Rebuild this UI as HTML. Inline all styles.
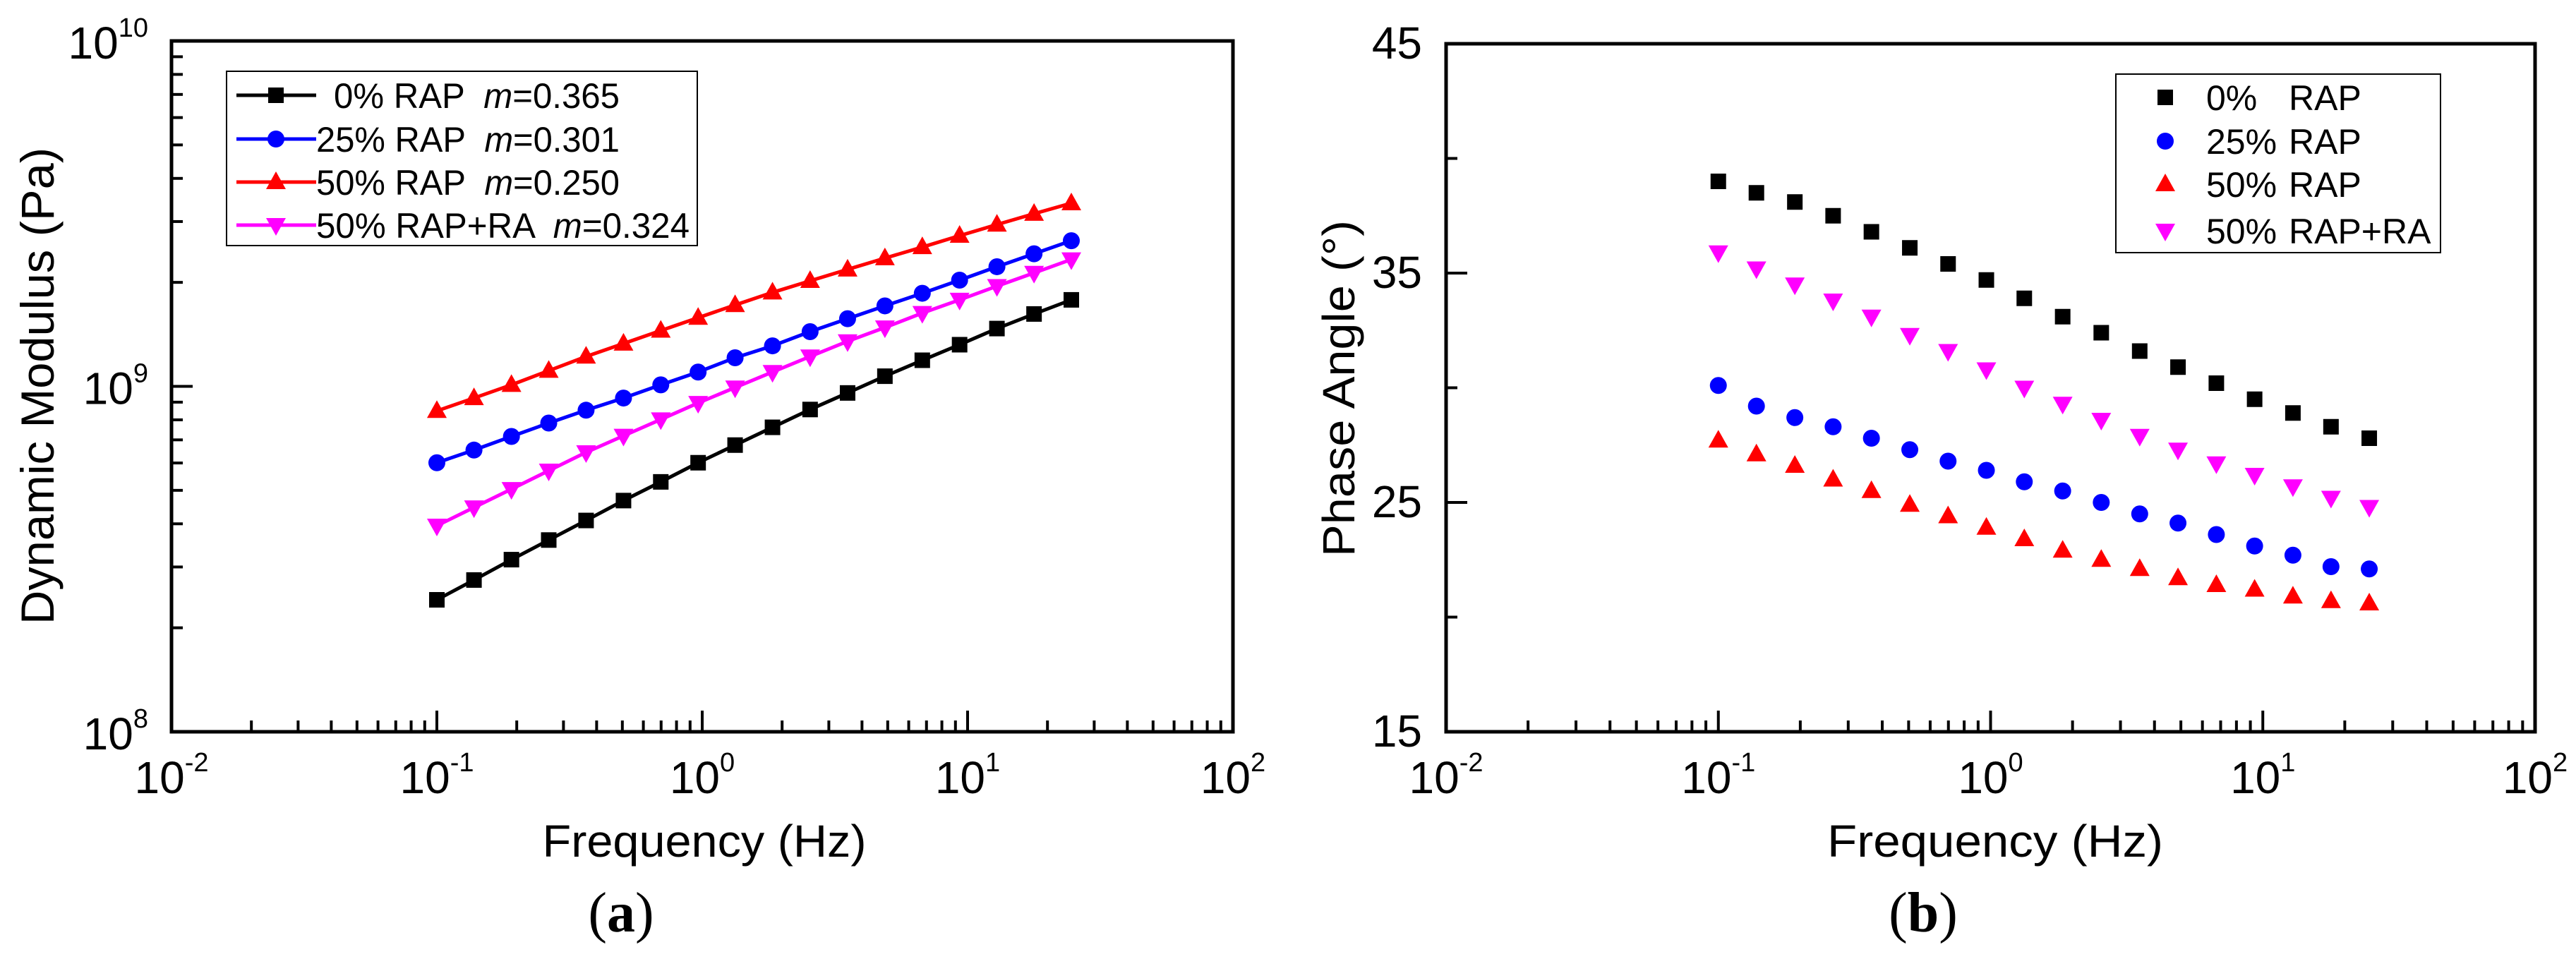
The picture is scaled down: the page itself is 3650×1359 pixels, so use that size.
<!DOCTYPE html>
<html><head><meta charset="utf-8"><style>
html,body{margin:0;padding:0;background:#fff;}
svg{display:block;font-family:"Liberation Sans",sans-serif;}
text{white-space:pre;}
</style></head><body>
<svg id="fig" width="3650" height="1359" viewBox="0 0 3650 1359" xmlns="http://www.w3.org/2000/svg">
<rect width="3650" height="1359" fill="#fff"/>
<g id="pa"></g>
<g id="pb"></g>
<text transform="translate(76,885) rotate(-90)" font-size="66" textLength="676" lengthAdjust="spacingAndGlyphs">Dynamic Modulus (Pa)</text>
<text x="998" y="1214" font-size="64" text-anchor="middle" textLength="459" lengthAdjust="spacingAndGlyphs">Frequency (Hz)</text>
<text x="880" y="1320" font-size="80" text-anchor="middle" font-family="Liberation Serif, serif">(<tspan font-weight="bold">a</tspan>)</text>
<text transform="translate(1919,789) rotate(-90)" font-size="64" textLength="477" lengthAdjust="spacingAndGlyphs">Phase Angle (°)</text>
<text x="2827" y="1214" font-size="64" text-anchor="middle" textLength="476" lengthAdjust="spacingAndGlyphs">Frequency (Hz)</text>
<text x="2725" y="1320" font-size="80" text-anchor="middle" font-family="Liberation Serif, serif">(<tspan font-weight="bold">b</tspan>)</text>
</svg>
<script>
const freq = [0.1,0.138,0.191,0.264,0.365,0.505,0.698,0.965,1.33,1.84,2.55,3.53,4.88,6.75,9.33,12.9,17.8,24.6];
// dynamic modulus in units of 1e8 Pa
const gRap0 = [2.41,2.75,3.15,3.59,4.09,4.67,5.29,6.01,6.76,7.61,8.57,9.57,10.7,11.9,13.2,14.7,16.2,17.8];
const gRap25 = [6.01,6.54,7.16,7.83,8.53,9.25,10.1,11.0,12.1,13.1,14.4,15.7,17.1,18.6,20.3,22.2,24.2,26.4];
const gRap50 = [8.49,9.25,10.1,11.1,12.2,13.3,14.5,15.8,17.2,18.7,20.2,21.8,23.5,25.3,27.3,29.4,31.6,33.9];
const gRap50RA = [3.95,4.46,5.04,5.70,6.44,7.19,8.02,8.95,9.92,11.0,12.2,13.5,14.8,16.3,17.8,19.5,21.3,23.3];
// phase angle in degrees
const pRap0 = [39.0,38.5,38.1,37.5,36.8,36.1,35.4,34.7,33.9,33.1,32.4,31.6,30.9,30.2,29.5,28.9,28.3,27.8];
const pRap25 = [30.1,29.2,28.7,28.3,27.8,27.3,26.8,26.4,25.9,25.5,25.0,24.5,24.1,23.6,23.1,22.7,22.2,22.1];
const pRap50 = [27.7,27.1,26.6,26.0,25.5,24.9,24.4,23.9,23.4,22.9,22.5,22.1,21.7,21.4,21.2,20.9,20.7,20.6];
const pRap50RA = [35.9,35.2,34.5,33.8,33.1,32.3,31.6,30.8,30.0,29.3,28.6,27.9,27.3,26.7,26.2,25.7,25.2,24.8];
const xDecades = [-2,-1,0,1,2];
const yDecades = [8,9,10];
const phaseMajor = [15,25,35,45];
const phaseMinor = [20,30,40];
const legendA = ['0% RAP  ','25% RAP  ','50% RAP  ','50% RAP+RA  '];
const legendM = ['0.365','0.301','0.250','0.324'];
const legendB = ['0%','25%','50%','50%'];
const legendBRest = ['RAP','RAP','RAP','RAP+RA'];

const NS='http://www.w3.org/2000/svg';
function mk(parent,tag,attrs){const e=document.createElementNS(NS,tag);for(const k in attrs)e.setAttribute(k,attrs[k]);parent.appendChild(e);return e;}
const colors=['#000000','#0000ff','#ff0000','#ff00ff'];
const shapes=['square','circle','up','down'];
function marker(g,shape,x,y,c){
  let e;
  if(shape==='square') e=mk(g,'rect',{x:x-11,y:y-11,width:22,height:22,fill:c});
  else if(shape==='circle') e=mk(g,'circle',{cx:x,cy:y,r:12,fill:c});
  else if(shape==='up') e=mk(g,'polygon',{points:`${x},${y-15} ${x+14},${y+10} ${x-14},${y+10}`,fill:c});
  else e=mk(g,'polygon',{points:`${x},${y+15} ${x+14},${y-10} ${x-14},${y-10}`,fill:c});
  return e;
}
const A={x0:243,x1:1747,y0:58,y1:1037};
const xA=f=>A.x0+(Math.log10(f)+2)*(A.x1-A.x0)/4;
const yA=v=>A.y1-(Math.log10(v)-8)*(A.y1-A.y0)/2;
const pa=document.getElementById('pa');
const B={x0:2049,x1:3592,y0:62,y1:1037};
const xB=f=>B.x0+(Math.log10(f)+2)*(B.x1-B.x0)/4;
const yB=a=>B.y1-(a-15)*(B.y1-B.y0)/30;
const pb=document.getElementById('pb');

function xAxis(g,P,xf){
  xDecades.forEach(d=>{
    const x=xf(Math.pow(10,d));
    const t=mk(g,'line',{x1:x,y1:P.y1,x2:x,y2:P.y1-30,stroke:'#000','stroke-width':4});
    
    
    const lb=mk(g,'text',{x:x,y:1124,'font-size':64,'text-anchor':'middle'});
    
    
    lb.textContent='10';
    const s=mk(lb,'tspan',{dy:-31,'font-size':38});s.textContent=String(d);
    if(d<2){for(let k=2;k<=9;k++){
      const xm=xf(k*Math.pow(10,d));
      const m=mk(g,'line',{x1:xm,y1:P.y1,x2:xm,y2:P.y1-16,stroke:'#000','stroke-width':4});
      
      
    }}
  });
}
xAxis(pa,A,xA);
yDecades.forEach(d=>{
  const y=yA(Math.pow(10,d));
  const t=mk(pa,'line',{x1:A.x0,y1:y,x2:A.x0+30,y2:y,stroke:'#000','stroke-width':4});
  
  
  const lb=mk(pa,'text',{x:210,y:y+25,'font-size':64,'text-anchor':'end'});
  
  
  lb.textContent='10';
  const s=mk(lb,'tspan',{dy:-31,'font-size':38});s.textContent=String(d);
  if(d<10){for(let k=2;k<=9;k++){
    const ym=yA(k*Math.pow(10,d));
    const m=mk(pa,'line',{x1:A.x0,y1:ym,x2:A.x0+16,y2:ym,stroke:'#000','stroke-width':4});
    
    
  }}
});
const fa=mk(pa,'rect',{x:A.x0,y:A.y0,width:A.x1-A.x0,height:A.y1-A.y0,fill:'none',stroke:'#000','stroke-width':5});


const seriesA=[gRap0,gRap25,gRap50,gRap50RA];
const namesA=['0-rap','25-rap','50-rap','50-rap-ra'];
seriesA.forEach((s,i)=>{
  const g=mk(pa,'g',{});
  
  
  const pts=freq.map((f,j)=>xA(f)+','+yA(s[j]*1e8)).join(' ');
  const pl=mk(g,'polyline',{points:pts,fill:'none',stroke:colors[i],'stroke-width':5});
  
  
  freq.forEach((f,j)=>{
    const m=marker(g,shapes[i],xA(f),yA(s[j]*1e8),colors[i]);
    
    
  });
});
const lgA=mk(pa,'g',{});


mk(lgA,'rect',{x:321,y:101,width:667,height:247,fill:'#fff',stroke:'#000','stroke-width':2});
const rowY=[135,197,258,319];
legendA.forEach((t,i)=>{
  const e=mk(lgA,'g',{});
  
  
  mk(e,'line',{x1:335,y1:rowY[i],x2:448,y2:rowY[i],stroke:colors[i],'stroke-width':5});
  marker(e,shapes[i],391,rowY[i],colors[i]);
  const x0=i===0?473:448;
  const tx=mk(e,'text',{x:x0,y:rowY[i]+18,'font-size':50});
  tx.textContent=t;
  const it=mk(tx,'tspan',{'font-style':'italic'});it.textContent='m';
  const r=mk(tx,'tspan',{});r.textContent='='+legendM[i];
  const target=(i===3?977:878)-x0;
  tx.setAttribute('textLength',target);
  tx.setAttribute('lengthAdjust','spacingAndGlyphs');
});
xAxis(pb,B,xB);
phaseMajor.forEach(v=>{
  const y=yB(v);
  const t=mk(pb,'line',{x1:B.x0,y1:y,x2:B.x0+30,y2:y,stroke:'#000','stroke-width':4});
  
  
  const lb=mk(pb,'text',{x:2015,y:y+21,'font-size':64,'text-anchor':'end'});
  
  
  lb.textContent=String(v);
});
phaseMinor.forEach(v=>{
  const y=yB(v);
  const m=mk(pb,'line',{x1:B.x0,y1:y,x2:B.x0+16,y2:y,stroke:'#000','stroke-width':4});
  
  
});
const fb=mk(pb,'rect',{x:B.x0,y:B.y0,width:B.x1-B.x0,height:B.y1-B.y0,fill:'none',stroke:'#000','stroke-width':5});


const seriesB=[pRap0,pRap25,pRap50,pRap50RA];
seriesB.forEach((s,i)=>{
  const g=mk(pb,'g',{});
  
  
  freq.forEach((f,j)=>{
    const m=marker(g,shapes[i],xB(f),yB(s[j]),colors[i]);
    
    
  });
});
const lgB=mk(pb,'g',{});


mk(lgB,'rect',{x:2998,y:105,width:460,height:253,fill:'#fff',stroke:'#000','stroke-width':2});
const rowYB=[138,200,261,327];
legendB.forEach((t,i)=>{
  const e=mk(lgB,'g',{});
  
  
  marker(e,shapes[i],3068,rowYB[i],colors[i]);
  const tx=mk(e,'text',{x:3126,y:rowYB[i]+18,'font-size':50});
  tx.textContent=t;
  const tx2=mk(e,'text',{x:3243,y:rowYB[i]+18,'font-size':50});
  tx2.textContent=legendBRest[i];
});
</script>
</body></html>
